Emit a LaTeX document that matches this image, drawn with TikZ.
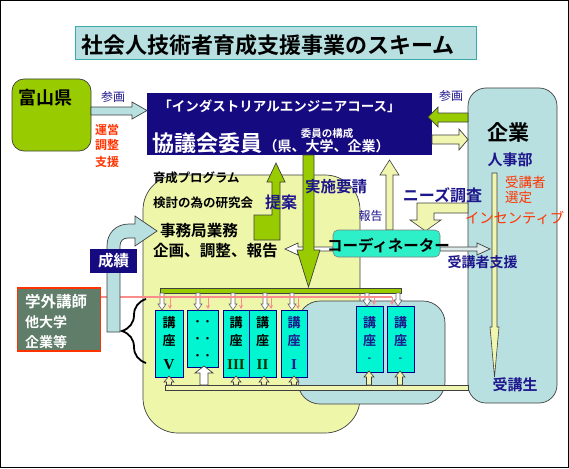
\documentclass[tikz,border=0pt]{standalone}
\usepackage{fontspec}
\setmainfont{Noto Sans CJK JP}[BoldFont={* Bold}]
\newfontfamily\romanb{Liberation Serif}
\usetikzlibrary{decorations.pathreplacing,arrows.meta}
\definecolor{navyF}{RGB}{22,10,128}
\definecolor{navyT}{RGB}{30,22,140}
\definecolor{greenA}{RGB}{153,204,0}
\definecolor{yelR}{RGB}{238,246,170}
\definecolor{yelA}{RGB}{240,246,175}
\definecolor{ltblue}{RGB}{184,224,224}
\definecolor{cyanB}{RGB}{0,245,208}
\definecolor{coordF}{RGB}{45,240,200}
\definecolor{grayG}{RGB}{95,125,105}
\definecolor{redT}{RGB}{255,51,0}
\definecolor{pinkC}{RGB}{250,140,140}
\definecolor{tealB}{RGB}{60,170,170}
\newcommand\fsz[1]{\fontsize{#1}{#1}\selectfont}
\begin{document}
\begin{tikzpicture}[x=1pt,y=-1pt,
  every node/.style={inner sep=0pt,outer sep=0pt},
  blk/.style={draw=black!75,line width=0.7pt,line join=miter},
  course/.style={draw=blue!55!black,fill=cyanB,line width=0.7pt},
  garrow/.style={draw=black!60,fill=white,line width=0.6pt},
  uarrow/.style={draw=black!75,fill=yelA,line width=0.6pt},
  parrow/.style={draw=pinkC,line width=1pt,-{Stealth[length=4pt,width=4pt]}},
  nv/.style={text=navyT,font=\bfseries},
  rd/.style={text=redT,font=\bfseries},
  ct/.style={font=\fsz{13}\bfseries},
  rn/.style={font=\fsz{15}\romanb\bfseries}
]
\useasboundingbox (0,0) rectangle (569,468);
\fill[white] (0,0) rectangle (569,468);
\draw[line width=1pt] (0.5,0.5) rectangle (568.5,467.5);

% title
\node[draw=tealB,fill=ltblue,line width=0.8pt,minimum width=401,minimum height=33] (title) at (275.5,42.5) {};
\node[font=\fsz{22}\bfseries] (titletext) at (268,45) {社会人技術者育成支援事業のスキーム};

% Toyama
\node[blk,fill=greenA,rounded corners=12,minimum width=79,minimum height=72] (toyama) at (51.5,115) {};
\node[font=\fsz{18}\bfseries] at (45.5,98) {富山県};

% council box
\node[fill=navyF,minimum width=285,minimum height=62] (council) at (289.5,124) {};
\node[text=white,font=\fsz{13.5}\bfseries] at (279.5,106) {「インダストリアルエンジニアコース」};
\node[text=white,font=\fsz{22}\bfseries] at (207.5,143) {協議会委員};
\node[text=white,font=\fsz{14}\bfseries] at (326.5,146) {（県、大学、企業）};
\node[text=white,font=\fsz{10.5}\bfseries] at (327,134) {委員の構成};

% company box
\draw[blk,fill=ltblue,rounded corners=18] (468,88) rectangle (557,403);

% arrows top
\draw[blk,fill=ltblue] (91,107) -- (132,107) -- (132,102) -- (147,110.5) -- (132,119) -- (132,115) -- (91,115) -- cycle;
\draw[blk,fill=greenA] (468,113) -- (438,113) -- (438,107) -- (428,117) -- (438,127) -- (438,122) -- (468,122) -- cycle;
\draw[blk,fill=yelA] (432,135) -- (459,135) -- (459,129) -- (468,139.5) -- (459,150) -- (459,144) -- (432,144) -- cycle;

% yellow region and lower blue region
\draw[blk,fill=yelR,rounded corners=35] (143,175) rectangle (360,433);
\draw[blk,fill=ltblue,rounded corners=22] (298,301) rectangle (445,404);

% proposal arrow
\draw[blk,fill=greenA] (254,240) -- (280,240) -- (280,182) -- (285,182) -- (276,163) -- (267,182) -- (272,182) -- (272,215) -- (254,215) -- cycle;
% report arrow
\draw[uarrow] (386,230) -- (386,175) -- (380,175) -- (389.5,160) -- (399,175) -- (393,175) -- (393,230) -- cycle;
% needs arrow
\draw[uarrow] (468,203) -- (417,203) -- (417,220) -- (410,220) -- (425.5,231) -- (441,220) -- (434,220) -- (434,213) -- (468,213) -- cycle;
% double arrow from coordinator
\draw[blk,fill=white] (333,247) -- (298,247) -- (298,243) -- (285,249) -- (298,255) -- (298,251) -- (333,251) -- cycle;
\draw[blk,fill=black!8!ltblue!40] (440,247) -- (477,247) -- (477,243) -- (490,249) -- (477,255) -- (477,251) -- (440,251) -- cycle;
% request arrow
\draw[blk,fill=greenA] (303,155) -- (314,155) -- (314,250) -- (320,250) -- (308.5,287) -- (297,250) -- (303,250) -- cycle;
% coordinator
\node[draw=black!50,fill=coordF,rounded corners=5,minimum width=107,minimum height=27,line width=0.6pt] (coord) at (386.5,243.5) {};
\node[font=\fsz{15.5}\bfseries] at (388.5,245) {コーディネーター};

% company internal arrow
\draw[uarrow] (492,173) -- (497,173) -- (497,327) -- (499,327) -- (494.5,377) -- (490,327) -- (492,327) -- cycle;

% bars
\draw[blk,fill=greenA] (160,288) rectangle (401,293);
\draw[blk,fill=yelA] (165,385) rectangle (468,390);

% courses
\node[course,minimum width=28,minimum height=67] (cV) at (169,343.5) {};
\node[course,minimum width=31,minimum height=57] (cD) at (202.5,338.5) {};
\node[course,minimum width=26,minimum height=67] (c3) at (236,343.5) {};
\node[course,minimum width=27,minimum height=67] (c2) at (262.5,343.5) {};
\node[course,minimum width=26,minimum height=67] (c1) at (294,343.5) {};
\node[course,minimum width=27,minimum height=66] (cA) at (369.5,339) {};
\node[course,minimum width=27,minimum height=66] (cB) at (400.5,339) {};

\foreach \x/\c in {169/black,236/black,262.5/black,294/navyT,369.5/navyT,400.5/navyT}{
  \node[ct,text=\c] at (\x,323) {講};
  \node[ct,text=\c] at (\x,341) {座};
}
\node[rn] at (169,365) {V};
\node[rn,text=black!80!green] at (236,365) {III};
\node[rn,text=black!80!green] at (262.5,365) {II};
\node[rn,text=navyT] at (294,365) {I};
\node[ct,text=navyT,font=\fsz{10}\bfseries] at (369.5,360) {-};
\node[ct,text=navyT,font=\fsz{10}\bfseries] at (400.5,360) {-};
\foreach \y in {323,340,357}{\node[font=\fsz{10}\bfseries] at (202.5,\y) {・・};}

% grey down arrows
\foreach \x/\t in {162/310,198/310,233/310,265/310,292/310,367/306,398/306}{
  \draw[garrow] (\x-2,293) -- (\x-2,\t-6) -- (\x-4,\t-6) -- (\x,\t) -- (\x+4,\t-6) -- (\x+2,\t-6) -- (\x+2,293) -- cycle;
}
% pink line and arrows
\draw[pinkC,line width=1.2pt] (101,297) -- (392,297);
\foreach \x/\t in {170/309,208/309,241/309,271/309,298/309,374/305,392/305}{
  \draw[parrow] (\x,297) -- (\x,\t);
}
% up arrows
\foreach \x/\t in {169/376,236/376,264/376,294/376,369/371,400/371}{
  \draw[uarrow] (\x-2.5,385) -- (\x-2.5,\t+6) -- (\x-5,\t+6) -- (\x,\t) -- (\x+5,\t+6) -- (\x+2.5,\t+6) -- (\x+2.5,385) -- cycle;
}
\draw[blk,fill=white] (200,385) -- (200,373) -- (195,373) -- (204,366) -- (213,373) -- (208,373) -- (208,385) -- cycle;

% seiseki arrow
\draw[blk,fill=ltblue] (107,332) -- (107,246) .. controls (107,233) and (116,224) .. (129,224) -- (135,224) -- (135,216) -- (157,231) -- (135,246) -- (135,238) -- (128,238) .. controls (123,238) and (120,241) .. (120,246) -- (120,332) -- cycle;
\node[fill=navyF,minimum width=47,minimum height=24] (seiseki) at (113.5,261) {};
\node[text=white,font=\fsz{15.5}\bfseries] at (113.5,261) {成績};

% external lecturers
\node[draw=redT,fill=grayG,line width=1.2pt,minimum width=83,minimum height=63] (gakugai) at (59,319.5) {};
\node[anchor=west,text=white,font=\fsz{15.5}\bfseries] at (25,302) {学外講師};
\node[anchor=west,text=white,font=\fsz{14}\bfseries] at (25,322) {他大学};
\node[anchor=west,text=white,font=\fsz{14}\bfseries] at (25,342) {企業等};
\draw[line width=1.8pt,decorate,decoration={brace,amplitude=24pt}] (146,363) -- (146,299);

% labels
\node[text=navyT,font=\fsz{12}] at (113,97) {参画};
\node[text=navyT,font=\fsz{12}] at (451,96) {参画};
\node[rd,font=\fsz{12}\bfseries] at (107,130) {運営};
\node[rd,font=\fsz{12}\bfseries] at (107,145) {調整};
\node[rd,font=\fsz{12}\bfseries] at (107,162) {支援};
\node[font=\fsz{21}\bfseries] at (508,132) {企業};
\node[nv,font=\fsz{15}\bfseries] at (510,160) {人事部};
\node[anchor=west,text=redT,font=\fsz{13.5}] at (505,182) {受講者};
\node[anchor=west,text=redT,font=\fsz{13.5}] at (505,197) {選定};
\node[anchor=west,text=redT,font=\fsz{14.3}] at (465,218) {インセンティブ};
\node[nv,font=\fsz{16}\bfseries] at (442.5,195) {ニーズ調査};
\node[nv,font=\fsz{15.5}\bfseries] at (336,187) {実施要請};
\node[text=navyT,font=\fsz{12}] at (370.5,216) {報告};
\node[nv,font=\fsz{16}\bfseries] at (281,202) {提案};
\node[nv,font=\fsz{14}\bfseries] at (482.5,262) {受講者支援};
\node[nv,font=\fsz{15}\bfseries] at (515,385) {受講生};
\node[anchor=west,font=\fsz{12.4}\bfseries] at (153,178) {育成プログラム};
\node[anchor=west,font=\fsz{12.5}\bfseries] at (153,203) {検討の為の研究会};
\node[anchor=west,font=\fsz{15.6}\bfseries] at (160,231) {事務局業務};
\node[anchor=west,font=\fsz{15.6}\bfseries] at (153,251) {企画、調整、報告};
\end{tikzpicture}
\end{document}
